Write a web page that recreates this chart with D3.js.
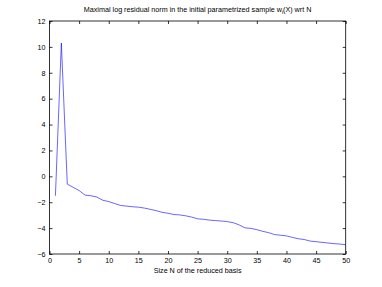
<!DOCTYPE html>
<html><head><meta charset="utf-8">
<script src="https://cdn.jsdelivr.net/npm/d3@7"></script>
<style>body{margin:0;background:#fff}svg{display:block}text{font-family:"Liberation Sans",Arial,sans-serif;fill:#000}</style>
</head><body>
<svg id="c" width="382" height="287"></svg>
<script>
const xs = d3.range(1, 51);
const values = [-1.5,10.3,-0.6,-0.85,-1.1,-1.45,-1.5,-1.6,-1.85,-1.95,
-2.1,-2.25,-2.3,-2.35,-2.38,-2.45,-2.55,-2.65,-2.78,-2.85,
-2.95,-2.98,-3.05,-3.15,-3.28,-3.32,-3.38,-3.42,-3.45,-3.5,
-3.58,-3.75,-3.98,-4.02,-4.12,-4.25,-4.35,-4.5,-4.55,-4.6,
-4.72,-4.82,-4.88,-5.0,-5.05,-5.1,-5.15,-5.2,-5.23,-5.28];
const xTicks = [0,5,10,15,20,25,30,35,40,45,50];
const yTicks = [-6,-4,-2,0,2,4,6,8,10,12];
const title = "Maximal log residual norm in the initial parametrized sample w";
const xLabel = "Size N of the reduced basis";

const L=49.5, R=345.7, T=21, B=254;
const svg = d3.select("#c");
const x = d3.scaleLinear().domain([0,50]).range([L,R]);
const y = d3.scaleLinear().domain([-6,12]).range([B,T]);

const g = svg.append("g");
g.append("rect").attr("x",L).attr("y",T).attr("width",R-L).attr("height",B-T)
 .attr("fill","none").attr("stroke","#000").attr("stroke-width",0.8);

const tl=3;
const xb = d3.axisBottom(x).tickValues(xTicks).tickSize(-tl).tickPadding(4).tickFormat(d3.format("d"));
const xt = d3.axisTop(x).tickValues(xTicks).tickSize(-tl).tickFormat("");
const yl = d3.axisLeft(y).tickValues(yTicks).tickSize(-tl).tickPadding(4).tickFormat(d3.format("d"));
const yr = d3.axisRight(y).tickValues(yTicks).tickSize(-tl).tickFormat("");
function style(sel){sel.select(".domain").remove();sel.selectAll("line").attr("stroke","#000").attr("stroke-width",0.8);
 sel.selectAll("text").attr("font-size",7.2).attr("font-family","Liberation Sans, Arial, sans-serif");}
g.append("g").attr("transform",`translate(0,${B})`).call(xb).call(style);
g.append("g").attr("transform",`translate(0,${T})`).call(xt).call(style);
g.append("g").attr("transform",`translate(${L},0)`).call(yl).call(style);
g.append("g").attr("transform",`translate(${R},0)`).call(yr).call(style);

const line = d3.line().x((d,i)=>x(xs[i])).y(d=>y(d));
g.append("path").datum(values).attr("d",line).attr("fill","none")
 .attr("stroke","#0000ff").attr("stroke-width",0.6);

const t = svg.append("text").attr("x",(L+R)/2).attr("y",12).attr("text-anchor","middle").attr("font-size",7.2);
t.append("tspan").text(title);
t.append("tspan").attr("font-size",5).attr("dy",2).text("i");
t.append("tspan").attr("dy",-2).text("(X) wrt N");

svg.append("text").attr("x",(L+R)/2).attr("y",273).attr("text-anchor","middle").attr("font-size",7.2).text(xLabel);
</script>
</body></html>
